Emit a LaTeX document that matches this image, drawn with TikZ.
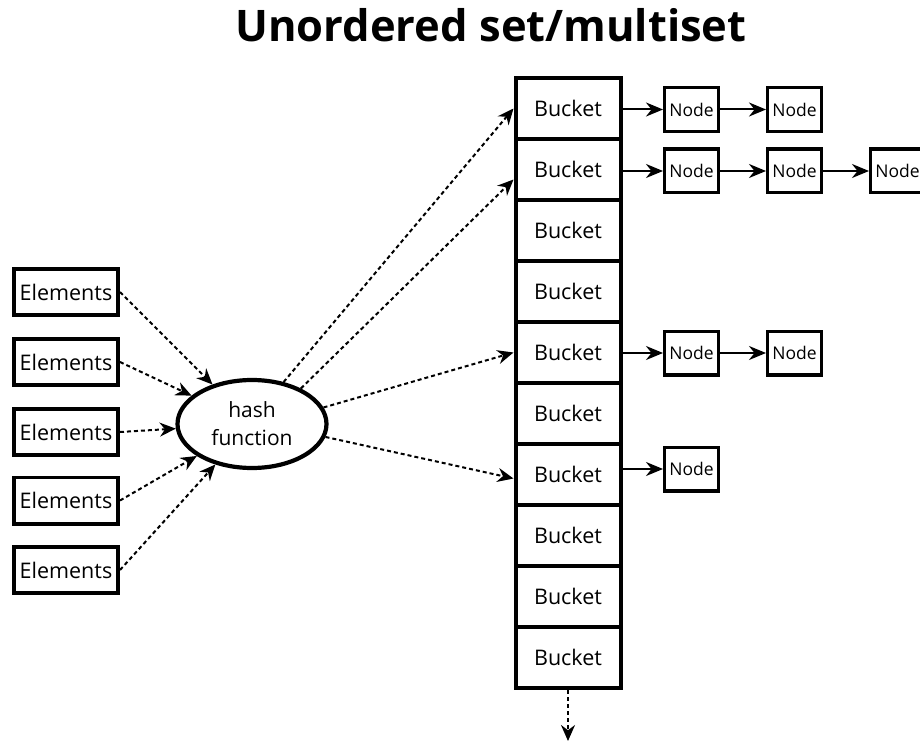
\documentclass[tikz,border=0pt]{standalone}
\usepackage{fontspec}
\setmainfont{Open Sans}
\usetikzlibrary{arrows.meta,shapes.geometric,calc}
\begin{document}
\begin{tikzpicture}[x=1pt,y=-1pt,
 bucket/.style={draw,line width=4pt,minimum width=105pt,minimum height=61pt,inner sep=0pt,font=\fontsize{21.5}{24}\selectfont},
 lnode/.style={draw,line width=3.4pt,minimum width=53.6pt,minimum height=43.6pt,inner sep=0pt,font=\fontsize{17.5}{20}\selectfont},
 elem/.style={draw,line width=3.8pt,minimum width=104.2pt,minimum height=46.2pt,inner sep=0pt,font=\fontsize{21.5}{24}\selectfont},
 hashstyle/.style={draw,ellipse,line width=4.2pt,minimum width=149pt,minimum height=88pt,inner sep=0pt,align=center,font=\fontsize{21}{28}\selectfont},
 link/.style={line width=2pt,-{Stealth[length=17pt,width=14pt]}},
 dlink/.style={line width=2pt,dash pattern=on 4pt off 3pt,-{Stealth[length=16pt,width=14pt]}}]
\useasboundingbox (0,0) rectangle (920,743);
\node[font=\fontsize{43.5}{50}\selectfont\bfseries,anchor=base] (title) at (491,42) {Unordered set/multiset};
% buckets
\foreach \i in {1,...,10}{
  \node[bucket] (b\i) at (568,{78+61*(\i-0.5)}) {Bucket};
}
% element boxes
\node[elem] (e1) at (66,292) {Elements};
\node[elem] (e2) at (66,362) {Elements};
\node[elem] (e3) at (66,432) {Elements};
\node[elem] (e4) at (66,500.5) {Elements};
\node[elem] (e5) at (66,570) {Elements};
% hash
\node[hashstyle] (hash) at (252,424) {hash\\function};
% list nodes
\node[lnode] (n11) at (691.5,109.5) {Node};
\node[lnode] (n12) at (794.5,109.5) {Node};
\node[lnode] (n21) at (691.5,171) {Node};
\node[lnode] (n22) at (794.5,171) {Node};
\node[lnode] (n23) at (897.5,171) {Node};
\node[lnode] (n51) at (691.5,353) {Node};
\node[lnode] (n52) at (794.5,353) {Node};
\node[lnode] (n71) at (691.5,469) {Node};
% element arrows
\foreach \i in {1,...,5}{
  \draw[dlink] (e\i.east) -- (hash);
}
% hash to buckets
\draw[dlink] (hash.53) -- (b1.west);
\draw[dlink] (hash.36) -- ($(b2.west)+(0,10)$);
\draw[dlink] (hash.13) -- (b5.west);
\draw[dlink] (hash.-10) -- ($(b7.west)+(0,4)$);
% bucket chains
\draw[link] (b1.east |- n11) -- (n11);
\draw[link] (n11) -- (n12);
\draw[link] (b2.east |- n21) -- (n21);
\draw[link] (n21) -- (n22);
\draw[link] (n22) -- (n23);
\draw[link] (b5.east |- n51) -- (n51);
\draw[link] (n51) -- (n52);
\draw[link] (b7.east |- n71) -- (n71);
% bottom continuation
\coordinate (more) at (568,741);
\draw[dlink] (b10.south) -- (more);
\end{tikzpicture}
\end{document}
